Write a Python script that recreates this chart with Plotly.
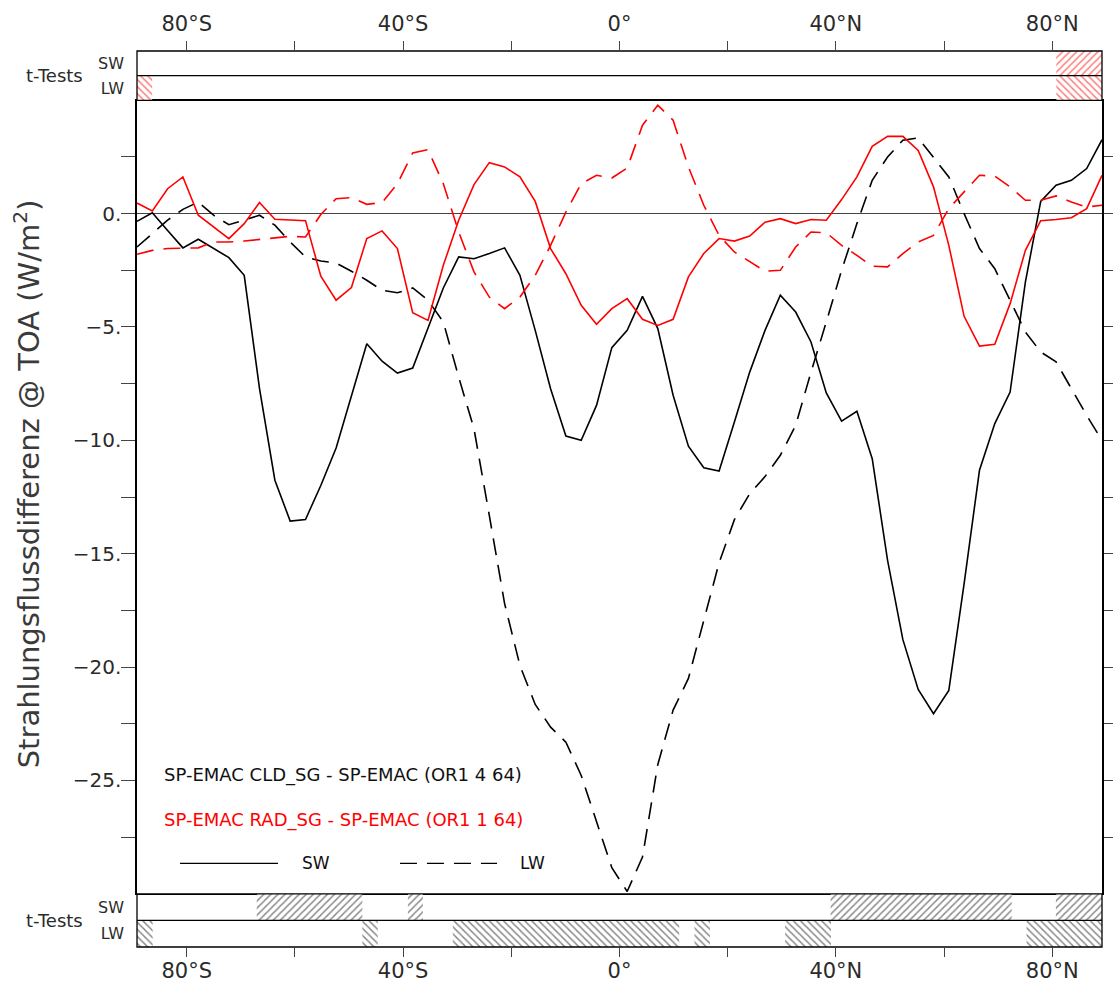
import plotly.graph_objects as go

# ---------------- data ----------------
lat = [-89.20, -86.37, -83.54, -80.71, -77.87, -75.04, -72.21, -69.38, -66.55, -63.71,
       -60.88, -58.05, -55.22, -52.39, -49.56, -46.72, -43.89, -41.06, -38.23, -35.40,
       -32.57, -29.73, -26.90, -24.07, -21.24, -18.41, -15.58, -12.74, -9.91, -7.08,
       -4.25, -1.42, 1.42, 4.25, 7.08, 9.91, 12.74, 15.58, 18.41, 21.24,
       24.07, 26.90, 29.73, 32.57, 35.40, 38.23, 41.06, 43.89, 46.72, 49.56,
       52.39, 55.22, 58.05, 60.88, 63.71, 66.55, 69.38, 72.21, 75.04, 77.87,
       80.71, 83.54, 86.37, 89.20]

sw_cld = [-0.34, 0.04, -0.74, -1.51, -1.13, -1.54, -1.94, -2.72, -7.72, -11.76,
          -13.56, -13.49, -11.99, -10.34, -8.09, -5.74, -6.51, -7.03, -6.81, -5.07,
          -3.28, -1.91, -1.99, -1.76, -1.51, -2.72, -5.15, -7.72, -9.81, -10.00,
          -8.46, -5.91, -5.15, -3.65, -5.07, -8.01, -10.26, -11.21, -11.35, -9.19,
          -6.99, -5.15, -3.60, -4.34, -5.66, -7.91, -9.15, -8.72, -10.81, -15.29,
          -18.79, -20.99, -22.06, -21.03, -16.32, -11.32, -9.26, -7.87, -3.01, 0.54,
          1.25, 1.47, 1.99, 3.26]

lw_cld = [-1.47, -0.88, -0.29, 0.19, 0.51, -0.07, -0.49, -0.29, -0.07, -0.51,
          -1.25, -1.91, -2.09, -2.18, -2.54, -2.94, -3.38, -3.49, -3.28, -3.82,
          -4.78, -7.21, -9.49, -13.31, -17.20, -19.93, -21.65, -22.65, -23.31, -24.78,
          -26.80, -28.85, -29.90, -28.38, -24.30, -21.90, -20.50, -18.00, -15.40, -13.50,
          -12.35, -11.60, -10.66, -9.34, -6.99, -4.78, -2.50, -0.44, 1.47, 2.50,
          3.24, 3.34, 2.50, 1.62, 0.00, -1.54, -2.43, -3.82, -5.22, -6.10,
          -6.54, -7.72, -8.90, -10.00]

sw_rad = [0.47, 0.12, 1.10, 1.62, -0.07, -0.59, -1.10, -0.44, 0.49, -0.25,
          -0.29, -0.31, -2.76, -3.82, -3.26, -1.10, -0.76, -1.54, -4.37, -4.71,
          -2.28, -0.29, 1.28, 2.25, 2.06, 1.62, 0.54, -1.54, -2.65, -4.04,
          -4.88, -4.19, -3.75, -4.66, -4.93, -4.66, -2.79, -1.76, -1.10, -1.21,
          -0.99, -0.38, -0.22, -0.44, -0.26, -0.29, 0.62, 1.62, 2.97, 3.41,
          3.41, 2.79, 1.18, -1.40, -4.53, -5.84, -5.76, -3.97, -1.62, -0.31,
          -0.26, -0.18, 0.22, 1.69]

lw_rad = [-1.79, -1.62, -1.54, -1.53, -1.51, -1.25, -1.25, -1.21, -1.13, -1.07,
          -1.00, -1.03, -0.04, 0.66, 0.71, 0.41, 0.49, 1.32, 2.68, 2.82,
          1.32, -0.81, -2.57, -3.68, -4.19, -3.68, -2.72, -1.40, 0.07, 1.32,
          1.69, 1.57, 2.01, 3.90, 4.78, 4.12, 2.06, 0.37, -0.96, -1.69,
          -2.13, -2.54, -2.50, -1.47, -0.81, -0.84, -1.40, -1.84, -2.32, -2.35,
          -1.76, -1.25, -0.96, 0.22, 0.96, 1.69, 1.66, 1.18, 0.59, 0.59,
          0.78, 0.51, 0.29, 0.37]

# significant latitude bands (start, end) of the t-tests
top_sw_start = [80.75]
top_sw_end = [89.20]
top_lw_start = [-89.20, 80.75]
top_lw_end = [-86.40, 89.20]
bot_sw_start = [-67.06, -39.12, 39.03, 80.67]
bot_sw_end = [-47.54, -36.35, 72.51, 89.20]
bot_lw_start = [-89.20, -47.54, -30.82, 13.86, 30.61, 75.25]
bot_lw_end = [-86.31, -44.69, 11.04, 16.72, 39.10, 89.20]

x_tickvals = [-80, -40, 0, 40, 80]
x_ticktext = ["80°S", "40°S", "0°", "40°N", "80°N"]
x_minor = [-60, -20, 20, 60]
y_tickvals = [0, -5, -10, -15, -20, -25]
y_ticktext = ["0.", "−5.", "−10.", "−15.", "−20.", "−25."]
y_minor = [2.5, -2.5, -7.5, -12.5, -17.5, -22.5, -27.5]

# ---------------- figure ----------------
FONT = "DejaVu Sans"
TXT = "#2a2a2a"
XR = [-89.2, 89.2]
DASH = "17px,10px"

fig = go.Figure()

fig.add_trace(go.Scatter(x=lat, y=sw_cld, mode="lines", line=dict(color="black", width=1.6),
                         xaxis="x", yaxis="y", showlegend=False))
fig.add_trace(go.Scatter(x=lat, y=lw_cld, mode="lines", line=dict(color="black", width=1.6, dash=DASH),
                         xaxis="x", yaxis="y", showlegend=False))
fig.add_trace(go.Scatter(x=lat, y=sw_rad, mode="lines", line=dict(color="#ff0000", width=1.6),
                         xaxis="x", yaxis="y", showlegend=False))
fig.add_trace(go.Scatter(x=lat, y=lw_rad, mode="lines", line=dict(color="#ff0000", width=1.6, dash=DASH),
                         xaxis="x", yaxis="y", showlegend=False))


def hatch(starts, ends, row, shape, color, xa, ya):
    return go.Bar(orientation="h", y=[row] * len(starts),
                  x=[e - s for s, e in zip(starts, ends)], base=starts, width=1,
                  marker=dict(color="white", line=dict(width=0),
                              pattern=dict(shape=shape, fgcolor=color, bgcolor="white",
                                           size=5, solidity=0.3)),
                  xaxis=xa, yaxis=ya, showlegend=False, hoverinfo="skip")


fig.add_trace(hatch(top_sw_start, top_sw_end, 1.5, "/", "#ff0000", "x2", "y2"))
fig.add_trace(hatch(top_lw_start, top_lw_end, 0.5, "\\", "#ff0000", "x2", "y2"))
fig.add_trace(hatch(bot_sw_start, bot_sw_end, 1.5, "/", "#1a1a1a", "x3", "y3"))
fig.add_trace(hatch(bot_lw_start, bot_lw_end, 0.5, "\\", "#1a1a1a", "x3", "y3"))

MAIN_DOM = [0.0594, 0.945]

common_x = dict(range=XR, showgrid=False, zeroline=False, automargin=False)
strip_x_ticks = dict(tickvals=x_tickvals, ticktext=x_ticktext, ticks="outside", ticklen=9,
                     tickwidth=1.2, tickcolor="#444", tickfont=dict(size=21, color=TXT),
                     showline=False,
                     minor=dict(tickvals=x_minor, ticks="outside", ticklen=9, tickwidth=1.2,
                                tickcolor="#444"))
strip_y = dict(range=[0, 2], tickvals=[0.5, 1.5], ticktext=["LW", "SW"], ticks="",
               showgrid=False, zeroline=False, showline=False, automargin=False,
               tickfont=dict(size=16, color=TXT), ticklabelstandoff=12)

fig.update_layout(
    width=1113, height=982,
    margin=dict(l=137, r=11, t=51, b=35),
    paper_bgcolor="white", plot_bgcolor="white",
    barmode="overlay",
    font=dict(family=FONT, color=TXT),
    xaxis=dict(**common_x, domain=[0, 1], anchor="y", showticklabels=False, ticks="",
               showline=True, linecolor="black", linewidth=1.3, mirror=True),
    yaxis=dict(domain=MAIN_DOM, anchor="x", range=[-30, 5], tickvals=y_tickvals, ticktext=y_ticktext,
               ticks="outside", ticklen=14, tickwidth=1.2, tickcolor="#444",
               minor=dict(tickvals=y_minor, ticks="outside", ticklen=14, tickwidth=1.2, tickcolor="#444"),
               showline=True, linecolor="black", linewidth=1.5, mirror="ticks", automargin=False,
               zeroline=True, zerolinecolor="#444", zerolinewidth=1.2, showgrid=False,
               tickfont=dict(size=20, color=TXT), ticklabelstandoff=-4),
    xaxis2=dict(**common_x, **strip_x_ticks, domain=[0, 1], anchor="y2", side="top", matches="x",
                ticklabelstandoff=2),
    yaxis2=dict(**strip_y, domain=[0.945, 1], anchor="x2"),
    xaxis3=dict(**common_x, **strip_x_ticks, domain=[0, 1], anchor="y3", side="bottom", matches="x",
                ticklabelstandoff=-4),
    yaxis3=dict(**strip_y, domain=[0, 0.0594], anchor="x3"),
)

# frames of the t-test strips and divider lines between SW and LW rows
for xa, ya in (("x2", "y2"), ("x3", "y3")):
    fig.add_shape(type="rect", xref=f"{xa} domain", yref=f"{ya} domain", x0=0, x1=1, y0=0, y1=1,
                  line=dict(color="black", width=1.3), layer="above")
    fig.add_shape(type="line", xref=f"{xa} domain", yref=ya,
                  x0=0, x1=1, y0=1, y1=1, line=dict(color="black", width=1.2), layer="above")

# "t-Tests" labels
for ya in ("y2", "y3"):
    fig.add_annotation(text="t-Tests", xref="paper", yref=f"{ya} domain", x=-0.054, y=0.5,
                       xanchor="right", yanchor="middle", showarrow=False,
                       font=dict(size=18, color=TXT))

# y-axis title
fig.add_annotation(text="Strahlungsflussdifferenz @ TOA (W/m<sup>2</sup>)", xref="paper", yref="paper",
                   x=-0.114, y=0.5175, xanchor="center", yanchor="middle", textangle=-90,
                   showarrow=False, font=dict(size=29, color="#3a3a3a"))

# legend texts
fig.add_annotation(text="SP-EMAC CLD_SG - SP-EMAC (OR1 4 64)", xref="x domain", yref="y domain",
                   x=0.0259, y=0.1493, xanchor="left", yanchor="middle", showarrow=False,
                   font=dict(size=18, color="#111"))
fig.add_annotation(text="SP-EMAC RAD_SG - SP-EMAC (OR1 1 64)", xref="x domain", yref="y domain",
                   x=0.0259, y=0.0926, xanchor="left", yanchor="middle", showarrow=False,
                   font=dict(size=18, color="#ff0000"))
fig.add_shape(type="line", xref="x domain", yref="y domain", x0=0.0446, x1=0.1461, y0=0.0384, y1=0.0384,
              line=dict(color="black", width=1.2))
fig.add_shape(type="line", xref="x domain", yref="y domain", x0=0.2725, x1=0.3731, y0=0.0384, y1=0.0384,
              line=dict(color="black", width=1.2, dash=DASH))
fig.add_annotation(text="SW", xref="x domain", yref="y domain", x=0.1689, y=0.0384,
                   xanchor="left", yanchor="middle", showarrow=False, font=dict(size=17, color="#111"))
fig.add_annotation(text="LW", xref="x domain", yref="y domain", x=0.3948, y=0.0384,
                   xanchor="left", yanchor="middle", showarrow=False, font=dict(size=17, color="#111"))

fig.write_html("out.html")
